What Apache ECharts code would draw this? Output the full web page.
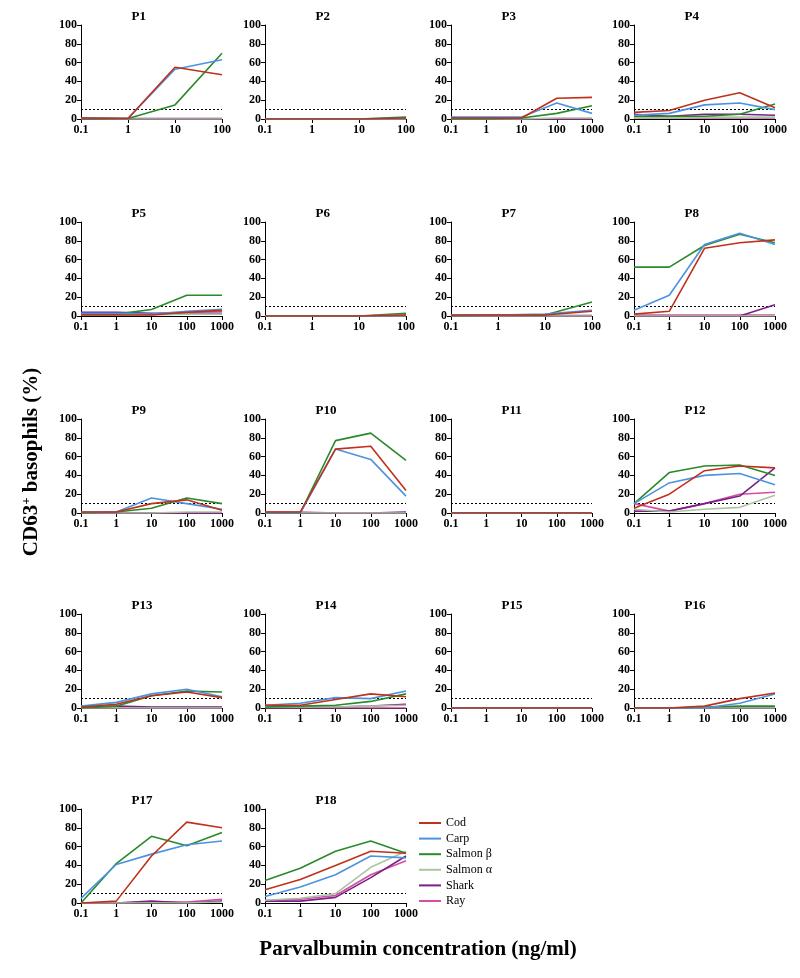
<!DOCTYPE html>
<html><head><meta charset="utf-8">
<script src="https://cdn.jsdelivr.net/npm/echarts@6/dist/echarts.min.js"></script>
<style>html,body{margin:0;padding:0;background:#fff}#c{width:800px;height:978px}</style>
</head><body><div id="c"></div>
<script>
const panelNames = ['P1','P2','P3','P4','P5','P6','P7','P8','P9','P10','P11','P12','P13','P14','P15','P16','P17','P18'];
const xShort = [0.1, 1, 10, 100];
const xLong = [0.1, 1, 10, 100, 1000];
const shortPanels = ['P1','P2','P6','P7'];
const speciesNames = ['Cod','Carp','Salmon β','Salmon α','Shark','Ray'];
const speciesColors = ['#c0311c','#4b93e0','#2a8a2a','#a9c6a2','#7a1f88','#d44fa2'];
const cutoff = 10;

const cod = [
  [1,0.5,55,47],[0,0,0,1],[1,1,1,22,23],[7,9,20,28,12],[1,1,1,4,6],[0,0,0,1],[1,1,1,5],
  [2,5,72,78,81],[1,1,10,14,3],[1,1,68,71,24],[0,0,0,0,0],[5,20,45,50,48],
  [1,4,13,17,11],[3,3,9,15,12],[0,0,0,0,0],[0,0,2,10,16],[0,2,50,86,80],[14,25,40,55,53]
];
const carp = [
  [1,0.5,53,63],[0,0,0,0.5],[2,2,2,17,6],[4,6,15,17,10],[3,3,2,5,7],[0,0,0,1],[1,1,2,6],
  [6,22,76,88,76],[1,1,16,10,4],[0,0,68,57,18],[0,0,0,0,0],[10,32,40,42,30],
  [2,6,15,20,12],[3,5,11,10,18],[0,0,0,0,0],[0,0,0,5,15],[5,41,52,62,66],[7,17,30,50,48]
];
const salmonB = [
  [0.5,0.5,15,70],[0,0,0,2],[0,0,1,6,14],[3,3,3,5,16],[2,2,7,22,22],[0,0,0,3],[0,1,1,15],
  [52,52,75,87,78],[0,1,5,16,10],[0,0,77,85,56],[0,0,0,0,0],[10,43,50,51,40],
  [0,2,13,18,17],[1,2,3,7,15],[0,0,0,0,0],[0,0,1,2,2],[0,42,71,61,75],[24,37,55,66,53]
];
const salmonA = [
  [0,0,0,0],[0,0,0,0],[0,0,0,1,1],[1,1,2,2,2],[1,1,1,2,2],[0,0,0,0],[0,0,0,0],
  [0,0,0,0,0],[0,0,0,1,1],[0,0,0,0,0],[0,0,0,0,0],[4,1,4,6,19],
  [0,0,0,0,0],[1,1,1,2,3],[0,0,0,0,0],[0,0,0,0,0],[0,0,0,0,1],[3,5,10,38,55]
];
const shark = [
  [0.5,0.5,0.5,0.5],[0,0,0,0],[0,0,0,0,0],[5,3,5,5,4],[4,4,3,3,3],[0,0,0,0],[0.5,0.5,0.5,0.5],
  [0,0,0,0,12],[0,0,0,0,0],[0,0,0,0,1],[0,0,0,0,0],[2,2,10,18,48],
  [1,2,1,1,1],[1,1,1,2,4],[0,0,0,0,0],[0,0,0,0,0],[0,0,2,0,2],[2,2,6,27,50]
];
const ray = [
  [1,0,0,0],[0,0,0,0],[0,0,0,0,0],[1,1,1,1,1],[2,2,2,4,5],[0,0,0,0],[0,0,0,0],
  [1,1,1,1,1],[0,0,0,0,0],[1,1,0,0,0],[0,0,0,0,0],[10,2,10,20,22],
  [0,0,0,0,0],[0,0,0,0,0],[0,0,0,0,0],[0,0,0,0,0],[0,0,1,1,4],[3,4,8,30,45]
];
const yTicks = [0,20,40,60,80,100];

const allSpecies = [cod, carp, salmonB, salmonA, shark, ray];
const colLeft = [81, 265, 451, 634];
const rowTop = [25, 222, 419, 614, 809];
const pw = 141, ph = 94;
const FONT = '"Liberation Serif","Times New Roman",serif';

const grids = [], xAxes = [], yAxes = [], series = [], graphics = [];
panelNames.forEach((name, i) => {
  const r = Math.floor(i / 4), c = i % 4;
  const left = colLeft[c], top = rowTop[r];
  const xs = shortPanels.includes(name) ? xShort : xLong;
  grids.push({left: left, top: top, width: pw, height: ph});
  xAxes.push({
    gridIndex: i, type: 'log', logBase: 10, min: xs[0], max: xs[xs.length - 1],
    axisLine: {lineStyle: {color: '#000', width: 1}},
    axisTick: {length: 4, lineStyle: {color: '#000'}},
    minorTick: {show: false}, splitLine: {show: false},
    axisLabel: {color: '#000', fontFamily: FONT, fontWeight: 'bold', fontSize: 12, margin: 5,
      formatter: v => (v < 0.5 ? '0.1' : String(Math.round(v)))}
  });
  yAxes.push({
    gridIndex: i, type: 'value', min: yTicks[0], max: yTicks[yTicks.length - 1], interval: 20,
    axisLine: {show: true, lineStyle: {color: '#000', width: 1}},
    axisTick: {show: true, length: 4, lineStyle: {color: '#000'}},
    splitLine: {show: false},
    axisLabel: {color: '#000', fontFamily: FONT, fontWeight: 'bold', fontSize: 12, margin: 4}
  });
  allSpecies.forEach((sp, k) => {
    series.push({
      type: 'line', name: speciesNames[k], xAxisIndex: i, yAxisIndex: i,
      data: sp[i].map((v, j) => [xs[j], v]),
      showSymbol: false, symbol: 'none',
      lineStyle: {color: speciesColors[k], width: 1.6},
      itemStyle: {color: speciesColors[k]},
      z: 10 - k,
      markLine: k === 0 ? {
        silent: true, symbol: 'none', label: {show: false},
        lineStyle: {color: '#000', type: [2, 2], width: 1},
        data: [{yAxis: cutoff}]
      } : undefined
    });
  });
  graphics.push({
    type: 'text', left: left + pw / 2 - 20, top: top - 15,
    style: {text: name, width: 40, align: 'center', font: 'bold 13px ' + FONT, fill: '#000'}
  });
});

graphics.push({
  type: 'text', x: 32, y: 462, rotation: Math.PI / 2,
  style: {
    text: '{a|CD63}{b|+}{a| basophils (%)}', align: 'center', verticalAlign: 'middle',
    rich: {
      a: {font: 'bold 21px ' + FONT, fill: '#000'},
      b: {font: 'bold 13px ' + FONT, fill: '#000', verticalAlign: 'top', padding: [0, 0, 10, 0]}
    }
  }
});
graphics.push({
  type: 'text', x: 418, y: 950,
  style: {text: 'Parvalbumin concentration (ng/ml)', align: 'center', verticalAlign: 'middle',
    font: 'bold 21px ' + FONT, fill: '#000'}
});

const chart = echarts.init(document.getElementById('c'), null, {renderer: 'canvas'});
chart.setOption({
  animation: false,
  backgroundColor: '#fff',
  grid: grids, xAxis: xAxes, yAxis: yAxes, series: series,
  legend: {
    data: speciesNames, orient: 'vertical', left: 414, top: 812, itemGap: 3.5,
    itemWidth: 22, itemHeight: 12, itemGap: 3.6, icon: 'path://M0,5L22,5L22,7L0,7Z',
    textStyle: {fontFamily: FONT, fontSize: 12, color: '#000'}
  },
  graphic: graphics
});
</script></body></html>
